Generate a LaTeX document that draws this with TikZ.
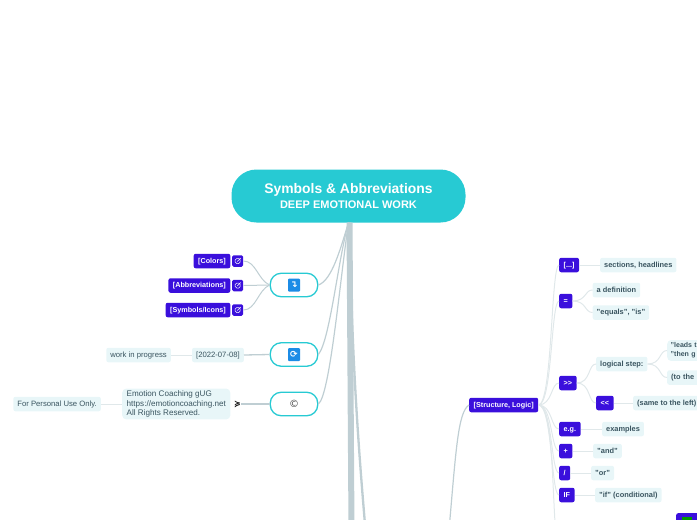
\documentclass[tikz,border=0pt]{standalone}
\usepackage{fontspec}
\setmainfont{Liberation Sans}
\newfontfamily\symfont{DejaVu Sans}
\usepackage{xcolor}
\usetikzlibrary{calc}
\usetikzlibrary{positioning}

\definecolor{rootcol}{HTML}{27CAD3}
\definecolor{bluecol}{HTML}{3A0FDC}
\definecolor{iconcol}{HTML}{1C8CE6}
\definecolor{notecol}{HTML}{E8F6F8}
\definecolor{trunkcol}{HTML}{BFCED3}
\definecolor{palecol}{HTML}{E0E8EA}
\definecolor{textcol}{HTML}{3A5560}

\tikzset{
	rootbox/.style={fill=rootcol,rounded corners=25pt,minimum width=234pt,minimum height=53pt,inner sep=0pt,text=white,align=center},
	mainbox/.style={draw=rootcol,fill=white,line width=1.3pt,rounded corners=11pt,minimum width=47.5pt,minimum height=23.5pt,inner sep=0pt},
	iconbox/.style={fill=iconcol,rounded corners=1pt,minimum width=12pt,minimum height=13pt,inner sep=0pt,text=white,font=\symfont\bfseries\fontsize{9}{9}\selectfont},
	bluebox/.style={fill=bluecol,rounded corners=2pt,minimum height=14.5pt,inner xsep=4.5pt,inner ysep=0pt,text height=5.5pt,text depth=1.5pt,text=white,font=\fontsize{7.2}{9}\selectfont\bfseries},
	linkbox/.style={fill=bluecol,rounded corners=1.5pt,minimum width=11pt,minimum height=11.5pt,inner sep=0pt,
		path picture={
			\draw [white,line width=.5pt] ($(path picture bounding box.center)+(-2.5,-2.5)$) rectangle ($(path picture bounding box.center)+(2.5,2.5)$);
			\draw [white,line width=.5pt] ($(path picture bounding box.center)+(-.5,.5)$) -- ($(path picture bounding box.center)+(3,-3)$);
		}},
	notebox/.style={fill=notecol,rounded corners=2pt,minimum height=14.5pt,inner xsep=4pt,inner ysep=0pt,text height=5.5pt,text depth=1.5pt,text=textcol,font=\fontsize{7.7}{9.6}\selectfont},
	boldnote/.style={notebox,font=\fontsize{7.4}{9.4}\selectfont\bfseries},
	multiline/.style={text height=,text depth=,align=left,rounded corners=4pt},
	trunk/.style={draw=trunkcol,line width=#1},
	trunk/.default=1.3pt,
	pale/.style={draw=palecol,line width=#1},
	pale/.default=1pt
}

\begin{document}
\begin{tikzpicture}[x=1pt,y=-1pt]
	
	\useasboundingbox (0,0) rectangle (697,520);
	
	\node [rootbox] (root) at (348.5,196) {{\fontsize{13.9}{16}\selectfont\bfseries Symbols \& Abbreviations}\\[3.5pt]{\fontsize{11}{12}\selectfont\bfseries DEEP EMOTIONAL WORK}};
	
	\coordinate (trunkend) at (351.5,530);
	\coordinate (sideend) at (365.5,530);
	\coordinate (structend) at (449,530);
	\coordinate (flagend) at (555.5,530);
	
	\node [mainbox] (links) at (294,285) {};
	\node [mainbox] (update) at (294,354.5) {};
	\node [mainbox] (copyright) at (294,404) {};
	
	\node [iconbox] (linksicon) at (294,285) {↴};
	\node [iconbox] (updateicon) at (294,354.5) {⟳};
	\node [text=black!70,inner sep=0pt,font=\symfont\fontsize{10}{10}\selectfont] (copyicon) at (294,403.5) {©};
	
	\node [linkbox] (colorslink) at (237.7,261) {};
	\node [linkbox] (abbrevlink) at (237.7,285.5) {};
	\node [linkbox] (symbolslink) at (237.7,310) {};
	
	\node [bluebox,anchor=east] (colors) at (230.5,261) {[Colors]};
	\node [bluebox,anchor=east] (abbrev) at (230.5,285.5) {[Abbreviations]};
	\node [bluebox,anchor=east] (symbols) at (230.5,310) {[Symbols/Icons]};
	
	\node [notebox,anchor=east] (date) at (244,355) {[2022-07-08]};
	\node [notebox,anchor=east] (progress) at (171,355) {work in progress};
	
	\node [notebox,multiline,anchor=east,inner xsep=4.5pt,inner ysep=2pt,font=\fontsize{8.1}{9.6}\selectfont] (coaching) at (230.5,404) {Emotion Coaching gUG\\https://emotioncoaching.net\\All Rights Reserved.};
	\node [notebox,anchor=east] (personal) at (101,404) {For Personal Use Only.};
	\node [inner sep=0pt,font=\symfont\bfseries\fontsize{8}{8}\selectfont] (mark) at (237.5,404) {≽};
	
	\node [bluebox,anchor=west] (structure) at (469,405) {[Structure, Logic]};
	
	\node [bluebox,anchor=west] (sections) at (559,265) {[...]};
	\node [bluebox,anchor=west] (equals) at (559,301) {=};
	\node [bluebox,anchor=west] (steps) at (559,383) {>\kern0pt>};
	\node [bluebox,anchor=west] (eg) at (559,429) {e.g.};
	\node [bluebox,anchor=west] (plus) at (559,451) {+};
	\node [bluebox,anchor=west] (slash) at (559,473) {/};
	\node [bluebox,anchor=west] (cond) at (559,495) {IF};
	
	\node [bluebox,anchor=west] (back) at (596,403) {<\kern0pt<};
	
	\node [boldnote,anchor=west] (headlines) at (600,265) {sections, headlines};
	\node [boldnote,anchor=west] (definition) at (592.5,290) {a definition};
	\node [boldnote,anchor=west] (equalsis) at (592.5,312.5) {"equals", "is"};
	\node [boldnote,anchor=west] (logical) at (596,364) {logical step:};
	\node [boldnote,multiline,anchor=west,inner xsep=3.5pt,inner ysep=2.5pt,text width=40pt,font=\fontsize{7}{9.4}\selectfont\bfseries] (leads) at (667,350.5) {"leads t\\"then g};
	\node [boldnote,anchor=west,text width=40pt] (tothe) at (667,377.5) {(to the};
	\node [boldnote,anchor=west] (sameleft) at (633,403) {(same to the left)};
	\node [boldnote,anchor=west] (examples) at (602,429) {examples};
	\node [boldnote,anchor=west] (andword) at (593,451) {"and"};
	\node [boldnote,anchor=west] (orword) at (591,473) {"or"};
	\node [boldnote,anchor=west] (ifword) at (595,495) {"if" (conditional)};
	
	\node [fill=bluecol,rounded corners=2pt,minimum width=30pt,minimum height=14pt,inner sep=0pt,anchor=north west] (flag) at (676,513) {};
	\node [fill=green!60!black,minimum width=10pt,minimum height=8pt,inner sep=0pt,anchor=north west] (flagicon) at (682,517) {};
	
	\draw [trunk=6pt] ($(root.south)+(1,0)$) -- (trunkend);
	\draw [trunk=2.3pt] ($(root.south)+(1.5,0)$) .. controls (351,330) and (356,420) .. (sideend);
	\draw [trunk=1.2pt] (structend) .. controls (456,450) and (458,412) .. (structure.west);
	
	\draw [trunk=1.2pt] (root.south) .. controls (340,250) and (332,280) .. (links.east);
	\draw [trunk=1.2pt] (root.south) .. controls (338,260) and (330,340) .. (update.east);
	\draw [trunk=1.2pt] (root.south) .. controls (340,280) and (330,395) .. (copyright.east);
	
	\draw [trunk=1pt] (colorslink.east) .. controls (256,261) and (258,280) .. (links.west);
	\draw [trunk=1pt] (abbrevlink.east) -- (links.west);
	\draw [trunk=1pt] (symbolslink.east) .. controls (256,310) and (258,290) .. (links.west);
	
	\draw [trunk] (date.east) -- (update.west);
	\draw [pale] (progress.east) -- (date.west);
	\draw [trunk] (mark.east) -- (copyright.west);
	\draw [pale] (personal.east) -- (coaching.west);
	
	\foreach \kid in {sections,equals,steps,eg,plus,slash,cond}
	\draw [pale] (structure.east) .. controls +(14,0) and ($(\kid.west)+(-8,0)$) .. (\kid.west);
	\draw [pale] (structure.east) .. controls +(14,0) and (552,480) .. (flagend);
	
	\foreach \from/\to in {equals/definition,equals/equalsis,steps/logical,steps/back,logical/leads,logical/tothe}
	\draw [pale] (\from.east) .. controls +(14,0) and ($(\to.west)+(-8,0)$) .. (\to.west);
	
	\foreach \from/\to in {sections/headlines,back/sameleft,eg/examples,plus/andword,slash/orword,cond/ifword}
	\draw [pale] (\from.east) -- (\to.west);
	
	\end{tikzpicture}
\end{document}
